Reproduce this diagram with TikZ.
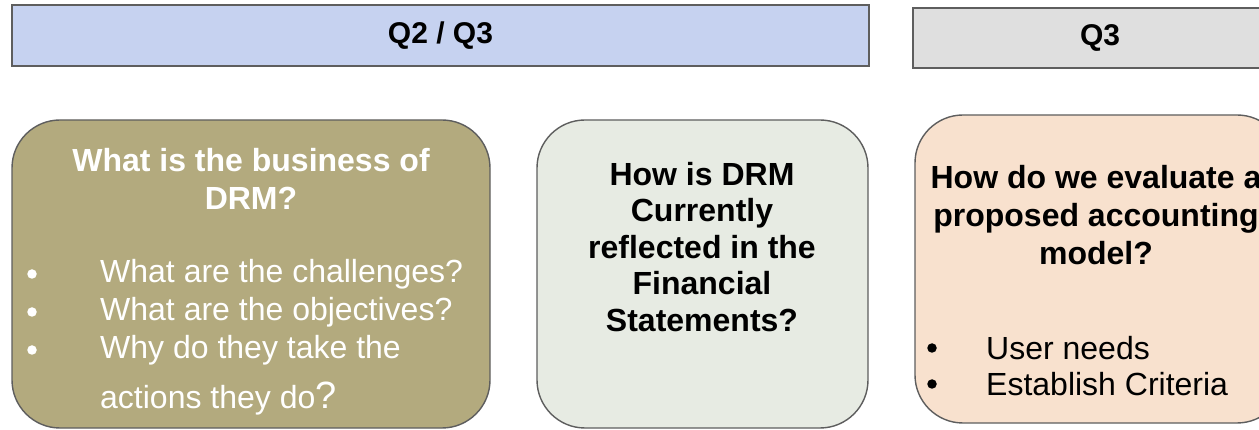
\documentclass[tikz,border=0pt]{standalone}
\usepackage{fontspec}
\setmainfont{Liberation Sans}
\definecolor{bannerA}{HTML}{C6D2F0}
\definecolor{bannerB}{HTML}{DFDFDF}
\definecolor{oliveF}{HTML}{B3AA7E}
\definecolor{greyF}{HTML}{E7EBE3}
\definecolor{peachF}{HTML}{F8E1CE}
\definecolor{edgeC}{HTML}{5E5E5E}
\tikzset{
  banner/.style={draw=edgeC, line width=1.6pt, inner sep=0pt, font=\bfseries\fontsize{30}{34}\selectfont},
  card/.style={draw=edgeC, line width=1.4pt, rounded corners=48pt, inner sep=0pt},
  bigtxt/.style={inner sep=0pt, font=\fontsize{32}{38}\selectfont},
  bolltxt/.style={inner sep=0pt, font=\bfseries\fontsize{32}{38}\selectfont, align=center},
  dot/.style={circle, inner sep=0pt, minimum size=9.5pt}
}
\begin{document}
\begin{tikzpicture}[x=1pt,y=-1pt]
\useasboundingbox (0,0) rectangle (1259,430);
\clip (0,0) rectangle (1259,430);
% banners
\node[banner, fill=bannerA, minimum width=857pt, minimum height=61pt] (b1) at (440.5,35.5) {Q2 / Q3};
\node[banner, fill=bannerB, minimum width=374pt, minimum height=60pt] (b2) at (1100,38) {Q3};
% cards
\node[card, fill=oliveF, minimum width=478pt, minimum height=308pt] (c1) at (251,274) {};
\node[card, fill=greyF, minimum width=331pt, minimum height=308pt] (c2) at (702.5,274) {};
\node[card, fill=peachF, minimum width=370pt, minimum height=308pt] (c3) at (1100,269) {};
% card 1 text
\node[bolltxt, text=white] (t1) at (251,179) {What is the business of\\DRM?};
\node[dot, fill=white] (d11) at (32,274) {};
\node[dot, fill=white] (d12) at (32,312) {};
\node[dot, fill=white] (d13) at (32,350) {};
\node[bigtxt, text=white, anchor=west] (l11) at (100,274) {What are the challenges?};
\node[bigtxt, text=white, anchor=west] (l12) at (100,312) {What are the objectives?};
\node[bigtxt, text=white, anchor=west] (l13) at (100,350) {Why do they take the};
\node[bigtxt, text=white, anchor=base west] (l14) at (100,409) {actions they do{\fontsize{38}{40}\selectfont ?}};
% card 2 text
\node[bolltxt, font=\bfseries\fontsize{32}{36.5}\selectfont] (t2) at (702,247) {How is DRM\\Currently\\reflected in the\\Financial\\Statements?};
% card 3 text
\node[bolltxt] (t3) at (1096,215) {How do we evaluate a\\proposed accounting\\model?};
\node[dot, fill=black] (d31) at (932,348) {};
\node[dot, fill=black] (d32) at (932,384) {};
\node[bigtxt, anchor=west] (l31) at (986,348) {User needs};
\node[bigtxt, anchor=west] (l32) at (986,384) {Establish Criteria};
\end{tikzpicture}
\end{document}
